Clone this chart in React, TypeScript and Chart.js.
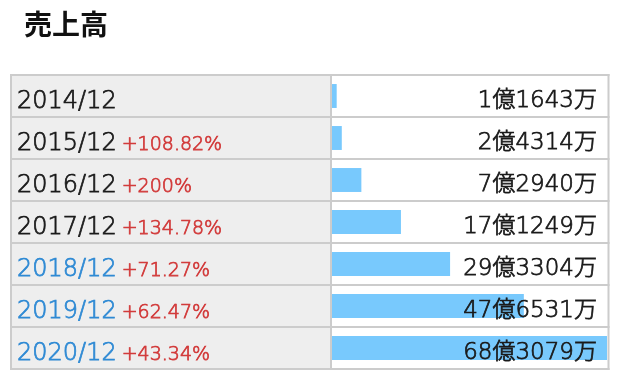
import React, { useEffect, useRef } from 'react';
import { Chart, registerables } from 'chart.js';
Chart.register(...registerables);

const chartTitle = '売上高';
const periods = ['2014/12', '2015/12', '2016/12', '2017/12', '2018/12', '2019/12', '2020/12'];
const growthPct: (number | null)[] = [null, 108.82, 200, 134.78, 71.27, 62.47, 43.34];
const revenueMan = [11643, 24314, 72940, 171249, 293304, 476531, 683079];
const highlighted = [false, false, false, false, true, true, true];

const FONT = "'Noto Sans CJK JP', 'Noto Sans', sans-serif";
const NUMFONT = "'DejaVu Sans ExtraLight', 'DejaVu Sans', 'Noto Sans CJK JP', sans-serif";

function fmtRevenue(v: number) {
  const oku = Math.floor(v / 10000);
  const man = v % 10000;
  return `${oku}億${man}万`;
}
function fmtPct(p: number) {
  return '+' + p + '%';
}

function drawText(ctx: any, s: string, x: number, y: number, color: string) {
  ctx.fillStyle = color;
  ctx.strokeStyle = color;
  ctx.lineWidth = 0.75;
  ctx.fillText(s, x, y);
  ctx.strokeText(s, x, y);
}

const tablePlugin = {
  id: 'tablePlugin',
  beforeDraw(chart: any) {
    const { ctx, chartArea } = chart;
    const top = chartArea.top;
    const bottom = chartArea.bottom;
    const n = periods.length;
    const step = (bottom - top) / n;
    const leftX = 11;
    const divX = 331;
    const rightX = 608.5;
    ctx.save();
    ctx.fillStyle = '#ffffff';
    ctx.fillRect(0, 0, chart.width, chart.height);
    ctx.fillStyle = '#eeeeee';
    ctx.fillRect(leftX, top, divX - leftX, bottom - top);
    ctx.strokeStyle = '#cccccc';
    ctx.lineWidth = 2;
    for (let k = 0; k <= n; k++) {
      const yy = Math.round(top + k * step);
      ctx.beginPath();
      ctx.moveTo(10, yy);
      ctx.lineTo(rightX + 1, yy);
      ctx.stroke();
    }
    [leftX, divX, rightX].forEach((x) => {
      ctx.beginPath();
      ctx.moveTo(x, top - 1);
      ctx.lineTo(x, bottom + 1);
      ctx.stroke();
    });
    // title
    ctx.fillStyle = '#111111';
    ctx.font = `bold 28px ${FONT}`;
    ctx.textBaseline = 'alphabetic';
    ctx.textAlign = 'left';
    ctx.fillText(chartTitle, 24, 35);
    ctx.restore();
  },
  afterDatasetsDraw(chart: any) {
    const { ctx, chartArea, scales } = chart;
    const y = scales.y;
    ctx.save();
    ctx.textBaseline = 'alphabetic';
    periods.forEach((p, i) => {
      const cy = y.getPixelForValue(i);
      ctx.textAlign = 'left';
      ctx.font = `200 24px ${NUMFONT}`;
      drawText(ctx, p, 17, cy + 12, highlighted[i] ? '#2f8ad4' : '#1a1a1a');
      const w = ctx.measureText(p).width;
      const g = growthPct[i];
      if (g !== null) {
        ctx.font = `200 19px ${NUMFONT}`;
        drawText(ctx, fmtPct(g), 17 + w + 5, cy + 12, '#d23b3b');
      }
      ctx.textAlign = 'right';
      ctx.font = `200 23px ${NUMFONT}`;
      drawText(ctx, fmtRevenue(revenueMan[i]), chartArea.right - 10, cy + 11, '#1a1a1a');
    });
    ctx.restore();
  },
};

export default function App() {
  const ref = useRef<HTMLCanvasElement>(null);
  useEffect(() => {
    if (!ref.current) return;
    const chart = new Chart(ref.current, {
      type: 'bar',
      data: {
        labels: periods,
        datasets: [
          {
            data: revenueMan,
            backgroundColor: '#78c9fd',
            borderWidth: 0,
            categoryPercentage: 1,
            barPercentage: 0.57,
          },
        ],
      },
      options: {
        indexAxis: 'y',
        responsive: false,
        animation: false,
        devicePixelRatio: 1,
        layout: { padding: { left: 332, right: 15, top: 75, bottom: 17 } },
        scales: {
          x: { display: false, min: 0, max: Math.max(...revenueMan) },
          y: { display: false },
        },
        plugins: {
          legend: { display: false },
          tooltip: { enabled: false },
          title: { display: false },
        },
      },
      plugins: [tablePlugin],
    });
    return () => chart.destroy();
  }, []);
  return (
    <div style={{ position: 'fixed', left: 0, top: 0, width: 622, height: 386, background: '#fff' }}>
      <canvas ref={ref} width={622} height={386} style={{ display: 'block' }} />
    </div>
  );
}
